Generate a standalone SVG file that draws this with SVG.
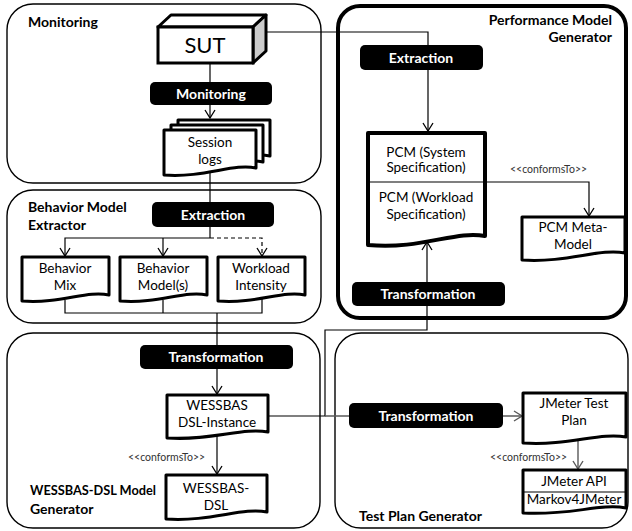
<svg xmlns="http://www.w3.org/2000/svg" width="632" height="531" viewBox="0 0 632 531">
<style>
text{font-family:Lato,"Open Sans","Liberation Sans",sans-serif;fill:#000}
.t{font-size:14px;font-weight:bold}
.d{font-size:13.5px;text-anchor:middle}
.s{font-size:10.5px;fill:#333}
.box{fill:#000}
.bt{font-size:14px;font-weight:bold;fill:#fff;text-anchor:middle}
.cont{fill:#fff;stroke:#000;stroke-width:1.4}
.doc{fill:#fff;stroke:#000;stroke-width:3;stroke-linejoin:round}
.ln{fill:none;stroke:#000;stroke-width:1.2}
.gl{fill:none;stroke:#595959;stroke-width:1.4}
</style>
<defs>
<marker id="a" viewBox="0 0 12 12" refX="10" refY="6" markerWidth="12" markerHeight="12" markerUnits="userSpaceOnUse" orient="auto"><path d="M2,1 L10,6 L2,11" fill="none" stroke="#000" stroke-width="1.3"/></marker>
<marker id="g" viewBox="0 0 12 12" refX="10" refY="6" markerWidth="12" markerHeight="12" markerUnits="userSpaceOnUse" orient="auto"><path d="M2,1 L10,6 L2,11" fill="none" stroke="#595959" stroke-width="1.4"/></marker>
</defs>
<rect width="632" height="531" fill="#fff"/>
<g id="containers">
<g id="monitoring-c"><rect class="cont" x="7" y="4" width="314" height="179" rx="26"/><text class="t" x="28" y="27">Monitoring</text></g>
<g id="bme-c"><rect class="cont" x="7" y="190" width="314" height="133" rx="26"/><text class="t" x="28" y="212">Behavior Model</text><text class="t" x="28" y="230">Extractor</text></g>
<g id="wessbas-c"><rect class="cont" x="7" y="333" width="313" height="195" rx="26"/><text class="t" x="30" y="495" textLength="126" lengthAdjust="spacingAndGlyphs">WESSBAS-DSL Model</text><text class="t" x="30" y="514">Generator</text></g>
<g id="pmg-c"><rect x="338" y="6" width="288" height="312" rx="22" fill="#fff" stroke="#000" stroke-width="4"/><text class="t" x="612" y="25" text-anchor="end">Performance Model</text><text class="t" x="612" y="42" text-anchor="end">Generator</text></g>
<g id="tpg-c"><rect class="cont" x="335" y="333" width="293" height="195" rx="26"/><text class="t" x="359" y="521">Test Plan Generator</text></g>
</g>
<g id="connectors">
<path class="ln" d="M266,32 H428 V131" marker-end="url(#a)"/>
<path class="ln" d="M210,63 V118" marker-end="url(#a)"/>
<path class="ln" d="M210,172 V238"/>
<path class="ln" d="M210,238 H65 V256" marker-end="url(#a)"/>
<path class="ln" d="M163,238 V256" marker-end="url(#a)"/>
<path class="ln" d="M210,238 H262 V256" stroke-dasharray="4 3" marker-end="url(#a)"/>
<path class="ln" d="M65,300 V313 H262 V296"/>
<path class="ln" d="M163,300 V313"/>
<path class="ln" d="M217,313 V394" marker-end="url(#a)"/>
<path class="ln" d="M217,436 V474" marker-end="url(#a)"/>
<path class="ln" d="M268,416 H325 V330 H427 V242" marker-end="url(#a)"/>
<path class="gl" d="M325,416 H522" marker-end="url(#g)"/>
<path class="gl" d="M578,439 V469" marker-end="url(#g)"/>
<path class="ln" d="M485,182 H589 V216" marker-end="url(#a)"/>
<text class="s" x="128" y="461">&lt;&lt;conformsTo&gt;&gt;</text>
<text class="s" x="510" y="173">&lt;&lt;conformsTo&gt;&gt;</text>
<text class="s" x="490" y="461">&lt;&lt;conformsTo&gt;&gt;</text>
</g>
<g id="sut">
<polygon points="158,27 171,15 266,15 253,27" fill="#fff" stroke="#000" stroke-width="3" stroke-linejoin="round"/>
<polygon points="253,27 266,15 266,51 253,63" fill="#ccc" stroke="#000" stroke-width="3" stroke-linejoin="round"/>
<rect x="158" y="27" width="95" height="36" fill="#fff" stroke="#000" stroke-width="3"/>
<text x="205" y="53" font-size="22" text-anchor="middle">SUT</text>
</g>
<g id="monitoring-op"><rect class="box" x="150" y="82" width="122" height="23" rx="5"/><text class="bt" x="211" y="98.5">Monitoring</text></g>
<g id="session-logs">
<path class="doc" d="M178,120 H270 V156 C247,151 219,166 178,163 Z"/>
<path class="doc" d="M171,125 H263 V162 C240,157 212,172 171,169 Z"/>
<path class="doc" d="M164,130 H256 V168 C233,163 205,178 164,175 Z"/>
<text class="d" x="210" y="147">Session</text><text class="d" x="210" y="164">logs</text>
</g>
<g id="extraction-bme"><rect class="box" x="152" y="202" width="122" height="25" rx="5"/><text class="bt" x="213" y="219.5">Extraction</text></g>
<g id="behavior-mix"><path class="doc" d="M22,257 H109 V295 C87,290 61,304 22,301 Z"/><text class="d" x="65" y="273">Behavior</text><text class="d" x="65" y="290">Mix</text></g>
<g id="behavior-models"><path class="doc" d="M120,257 H207 V295 C185,290 159,304 120,301 Z"/><text class="d" x="163" y="273">Behavior</text><text class="d" x="163" y="290">Model(s)</text></g>
<g id="workload-intensity"><path class="doc" d="M218,257 H305 V295 C283,290 257,304 218,301 Z"/><text class="d" x="261" y="273">Workload</text><text class="d" x="261" y="290">Intensity</text></g>
<g id="transformation-w"><rect class="box" x="140" y="345" width="153" height="24" rx="5"/><text class="bt" x="216" y="362">Transformation</text></g>
<g id="dsl-instance"><path class="doc" d="M167,395 H268 V432 C243,427 212,441 167,438 Z"/><text class="d" x="217" y="410">WESSBAS</text><text class="d" x="217" y="427">DSL-Instance</text></g>
<g id="wessbas-dsl"><path class="doc" d="M166,475 H267 V512 C242,507 211,522 166,519 Z"/><text class="d" x="216" y="493">WESSBAS-</text><text class="d" x="216" y="510">DSL</text></g>
<g id="extraction-pmg"><rect class="box" x="360" y="45" width="123" height="25" rx="5"/><text class="bt" x="421" y="62.5">Extraction</text></g>
<g id="pcm"><path d="M368,133 H485 V236 C456,230 421,250 368,245 Z" fill="#fff" stroke="#000" stroke-width="4" stroke-linejoin="round"/><path class="ln" d="M368,182 H485"/>
<text class="d" x="426" y="157">PCM (System</text><text class="d" x="426" y="172">Specification)</text>
<text class="d" x="426" y="202">PCM (Workload</text><text class="d" x="426" y="219">Specification)</text></g>
<g id="pcm-meta"><path class="doc" d="M522,217 H625 V253 C599,248 568,263 522,260 Z"/><text class="d" x="573" y="232">PCM Meta-</text><text class="d" x="573" y="249">Model</text></g>
<g id="transformation-pmg"><rect class="box" x="352" y="282" width="153" height="24" rx="5"/><text class="bt" x="428" y="299">Transformation</text></g>
<g id="transformation-tpg"><rect class="box" x="349" y="403" width="154" height="25" rx="5"/><text class="bt" x="426" y="420.5">Transformation</text></g>
<g id="jmeter-plan"><path class="doc" d="M523,393 H626 V437 C600,432 569,446 523,443 Z"/><text class="d" x="574" y="408">JMeter Test</text><text class="d" x="574" y="425">Plan</text></g>
<g id="jmeter-api"><path class="doc" d="M523,470 H626 V508 C600,503 569,516 523,513 Z"/><path class="ln" d="M523,492 H626"/><text class="d" x="574" y="486" font-size="12">JMeter API</text><text class="d" x="574" y="504" font-size="11.5">Markov4JMeter</text></g>
</svg>
